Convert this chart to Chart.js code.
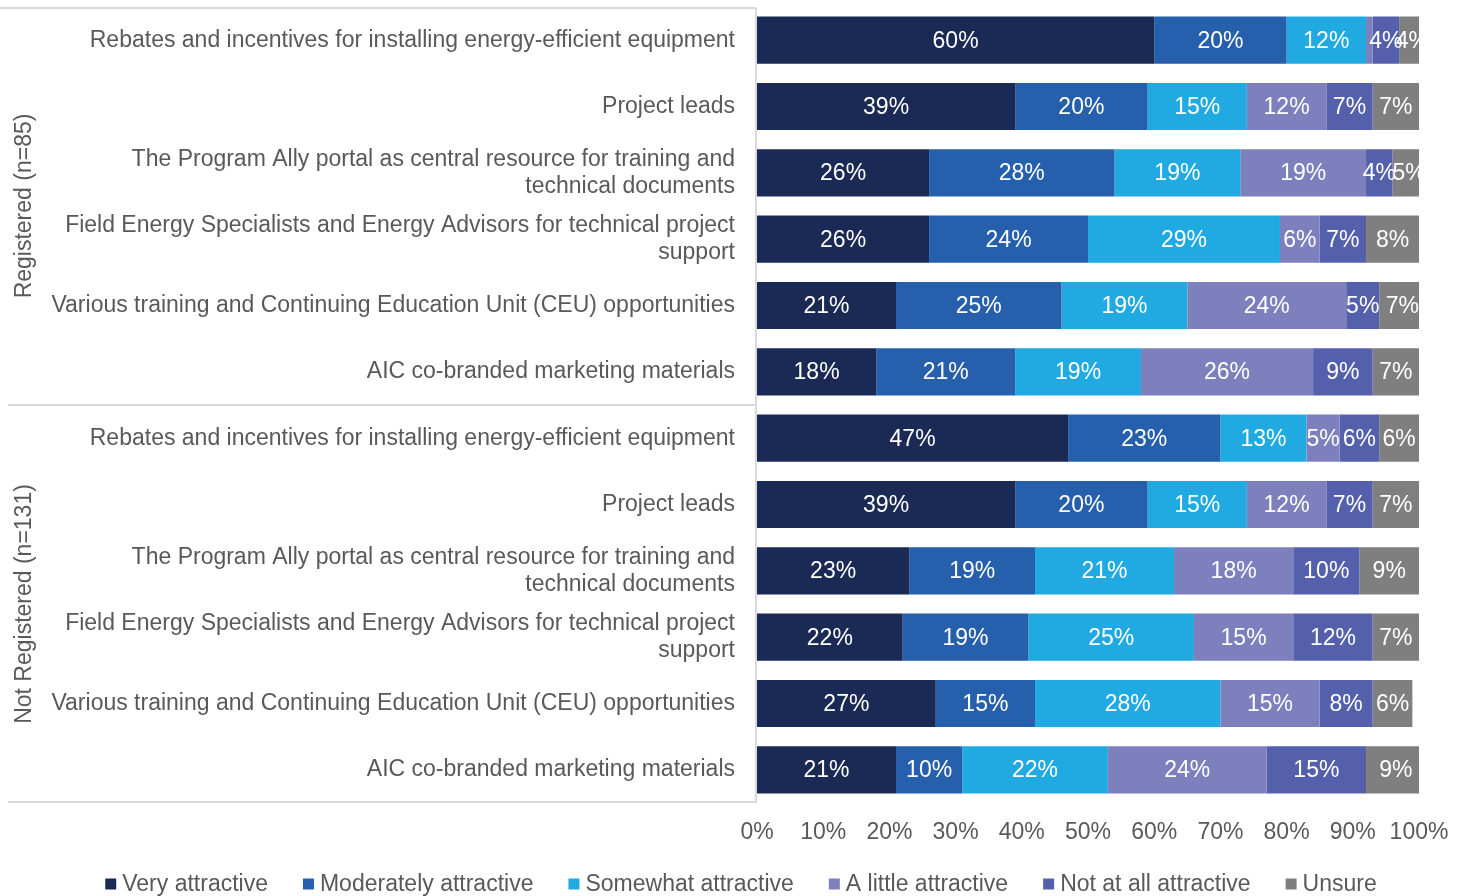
<!DOCTYPE html>
<html>
<head>
<meta charset="utf-8">
<script src="https://cdn.jsdelivr.net/npm/chart.js@4.4.1/dist/chart.umd.min.js"></script>
<style>
  html, body { margin: 0; padding: 0; background: #ffffff; overflow: hidden; }
  #wrap { position: relative; width: 1465px; height: 896px; }
</style>
</head>
<body>
<div id="wrap"><canvas id="attractChart"></canvas></div>
<script>
// question rows, top to bottom (two respondent groups of six)
var items = [
  "Rebates and incentives for installing energy-efficient equipment",
  "Project leads",
  ["The Program Ally portal as central resource for training and", "technical documents"],
  ["Field Energy Specialists and Energy Advisors for technical project", "support"],
  "Various training and Continuing Education Unit (CEU) opportunities",
  "AIC co-branded marketing materials",
  "Rebates and incentives for installing energy-efficient equipment",
  "Project leads",
  ["The Program Ally portal as central resource for training and", "technical documents"],
  ["Field Energy Specialists and Energy Advisors for technical project", "support"],
  "Various training and Continuing Education Unit (CEU) opportunities",
  "AIC co-branded marketing materials"
];
var groups = ["Registered (n=85)", "Not Registered (n=131)"];
var xTicks = [0, 10, 20, 30, 40, 50, 60, 70, 80, 90, 100];

// percent of respondents per rating
var veryAttractive       = [60, 39, 26, 26, 21, 18, 47, 39, 23, 22, 27, 21];
var moderatelyAttractive = [20, 20, 28, 24, 25, 21, 23, 20, 19, 19, 15, 10];
var somewhatAttractive   = [12, 15, 19, 29, 19, 19, 13, 15, 21, 25, 28, 22];
var littleAttractive     = [1, 12, 19, 6, 24, 26, 5, 12, 18, 15, 15, 24];
var notAttractive        = [4, 7, 4, 7, 5, 9, 6, 7, 10, 12, 8, 15];
var unsure               = [4, 7, 5, 8, 7, 7, 6, 7, 9, 7, 6, 9];

var FONT = "'Liberation Sans', Arial, sans-serif";
var FSIZE = 23;
var GRAY_TEXT = "#595959";

function ds(label, data, color) {
  return {
    label: label,
    data: data,
    backgroundColor: color,
    borderWidth: 0,
    barPercentage: 0.71,
    categoryPercentage: 1.0
  };
}

// white % labels centred in each segment
var segmentLabels = {
  id: "segmentLabels",
  afterDatasetsDraw: function(chart) {
    var ctx = chart.ctx;
    ctx.save();
    ctx.font = FSIZE + "px " + FONT;
    ctx.fillStyle = "#ffffff";
    ctx.textAlign = "center";
    ctx.textBaseline = "middle";
    chart.data.datasets.forEach(function(d, i) {
      var meta = chart.getDatasetMeta(i);
      meta.data.forEach(function(bar, j) {
        var v = d.data[j];
        if (v < 2) return;
        var p = bar.getCenterPoint();
        ctx.fillText(v + "%", p.x, p.y + 1);
      });
    });
    ctx.restore();
  }
};

// group brackets on the category axis, rotated group names, legend
var groupFrame = {
  id: "groupFrame",
  afterDraw: function(chart) {
    var ctx = chart.ctx;
    var area = chart.chartArea;
    var y = chart.scales.y;
    var mid = (y.getPixelForTick(5) + y.getPixelForTick(6)) / 2;
    var right = area.left - 1;

    ctx.save();
    ctx.strokeStyle = "#d9d9d9";
    ctx.lineWidth = 2;
    ctx.beginPath();
    ctx.moveTo(0, area.top + 1); ctx.lineTo(right, area.top + 1);
    ctx.moveTo(right, area.top + 1); ctx.lineTo(right, area.bottom);
    ctx.moveTo(8, mid); ctx.lineTo(right, mid);
    ctx.moveTo(8, area.bottom - 1); ctx.lineTo(right, area.bottom - 1);
    ctx.stroke();

    ctx.fillStyle = GRAY_TEXT;
    ctx.font = FSIZE + "px " + FONT;
    ctx.textAlign = "center";
    ctx.textBaseline = "middle";
    var centres = [(area.top + mid) / 2, (mid + area.bottom) / 2];
    groups.forEach(function(g, i) {
      ctx.save();
      ctx.translate(25, centres[i]);
      ctx.rotate(-Math.PI / 2);
      ctx.fillText(g, 0, 0);
      ctx.restore();
    });

    // legend row
    var ly = 884, box = 11, gap = 6, spacing = 35;
    ctx.textAlign = "left";
    var widths = chart.data.datasets.map(function(d) {
      return box + gap + ctx.measureText(d.label).width;
    });
    var total = widths.reduce(function(a, b) { return a + b; }, 0) + spacing * (widths.length - 1);
    var lx = 741 - total / 2;
    chart.data.datasets.forEach(function(d, i) {
      ctx.fillStyle = d.backgroundColor;
      ctx.fillRect(lx, ly - box / 2, box, box);
      ctx.fillStyle = GRAY_TEXT;
      ctx.fillText(d.label, lx + box + gap, ly + 1);
      lx += widths[i] + spacing;
    });
    ctx.restore();
  }
};

var canvas = document.getElementById("attractChart");
canvas.width = 1465;
canvas.height = 896;

var chart = new Chart(canvas, {
  type: "bar",
  data: {
    labels: items,
    datasets: [
      ds("Very attractive", veryAttractive, "#1b2a55"),
      ds("Moderately attractive", moderatelyAttractive, "#265fab"),
      ds("Somewhat attractive", somewhatAttractive, "#21aae1"),
      ds("A little attractive", littleAttractive, "#7e80be"),
      ds("Not at all attractive", notAttractive, "#5460ab"),
      ds("Unsure", unsure, "#7f7f7f")
    ]
  },
  options: {
    indexAxis: "y",
    responsive: false,
    animation: false,
    layout: { padding: { top: 7, right: 46, bottom: 0, left: 0 } },
    plugins: {
      legend: { display: false },
      tooltip: { enabled: false }
    },
    scales: {
      x: {
        stacked: true,
        min: 0,
        max: 100,
        afterBuildTicks: function(scale) {
          scale.ticks = xTicks.map(function(v) { return { value: v }; });
        },
        afterFit: function(scale) { scale.height = 93; },
        grid: { display: false },
        border: { display: false },
        ticks: {
          padding: 8,
          color: GRAY_TEXT,
          font: { family: FONT, size: FSIZE },
          callback: function(v) { return v + "%"; }
        }
      },
      y: {
        stacked: true,
        afterFit: function(scale) {
          scale.width = 757;
          scale.paddingTop = 0;
          scale.paddingBottom = 0;
        },
        grid: { display: false },
        border: { display: false },
        ticks: {
          padding: 14,
          color: GRAY_TEXT,
          font: { family: FONT, size: FSIZE, lineHeight: 1.18 }
        }
      }
    }
  },
  plugins: [segmentLabels, groupFrame]
});
</script>
</body>
</html>
